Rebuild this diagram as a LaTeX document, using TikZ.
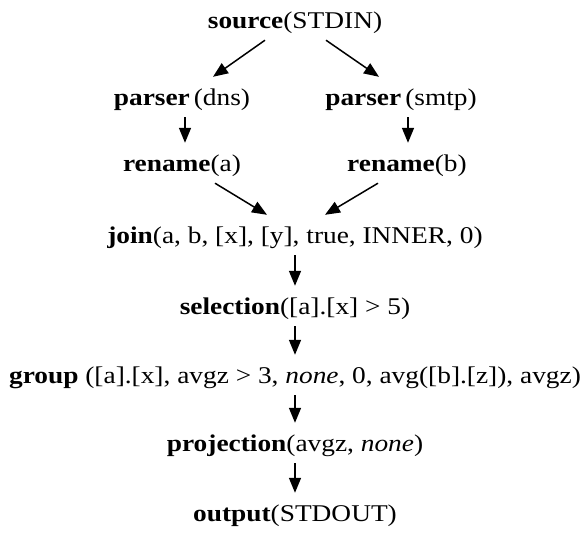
\documentclass[tikz,border=0pt]{standalone}
\usepackage{fontspec}
\setmainfont{Liberation Serif}[FakeStretch=1.14]
\usetikzlibrary{arrows.meta}

\begin{document}
\begin{tikzpicture}[x=1pt, y=-1pt,
    opnode/.style={inner xsep=0pt, inner ysep=12pt, text height=16pt, text depth=0pt,
      font=\fontsize{24}{28}\selectfont},
    pipe/.style={line width=1.5pt, -{Triangle[length=15pt, width=12pt]}}]
  \useasboundingbox (0,0) rectangle (582,533);

  % operators, top to bottom
  \node[opnode] (src) at (295,20) {\textbf{source}(STDIN)};
  \node[opnode] (pdns) at (182,97) {\textbf{parser}\,(dns)};
  \node[opnode] (psmtp) at (401,97) {\textbf{parser}\,(smtp)};
  \node[opnode] (rena) at (182,163) {\textbf{rename}(a)};
  \node[opnode] (renb) at (407,163) {\textbf{rename}(b)};
  \node[opnode] (join) at (295,235) {\textbf{join}(a, b, [x], [y], true, INNER, 0)};
  \node[opnode] (sel) at (295,306) {\textbf{selection}([a].[x] > 5)};
  \node[opnode] (grp) at (295,375) {\textbf{group} ([a].[x], avgz > 3, \textit{none}, 0, avg([b].[z]), avgz)};
  \node[opnode] (proj) at (295,443) {\textbf{projection}(avgz, \textit{none})};
  \node[opnode] (out) at (295,513) {\textbf{output}(STDOUT)};

  % edges
  \draw[pipe] ([xshift=-30pt]src.south) -- ([xshift=31pt]pdns.north);
  \draw[pipe] ([xshift=31pt]src.south) -- ([xshift=-22pt]psmtp.north);
  \draw[pipe] ([xshift=3pt]pdns.south) -- ([xshift=3pt]rena.north);
  \draw[pipe] ([xshift=7pt]psmtp.south) -- ([xshift=1pt]renb.north);
  \draw[pipe] ([xshift=33pt]rena.south) -- ([xshift=-28pt]join.north);
  \draw[pipe] ([xshift=-29pt]renb.south) -- ([xshift=30pt]join.north);
  \draw[pipe] (join) -- (sel);
  \draw[pipe] (sel) -- (grp);
  \draw[pipe] (grp) -- (proj);
  \draw[pipe] (proj) -- (out);
\end{tikzpicture}
\end{document}
